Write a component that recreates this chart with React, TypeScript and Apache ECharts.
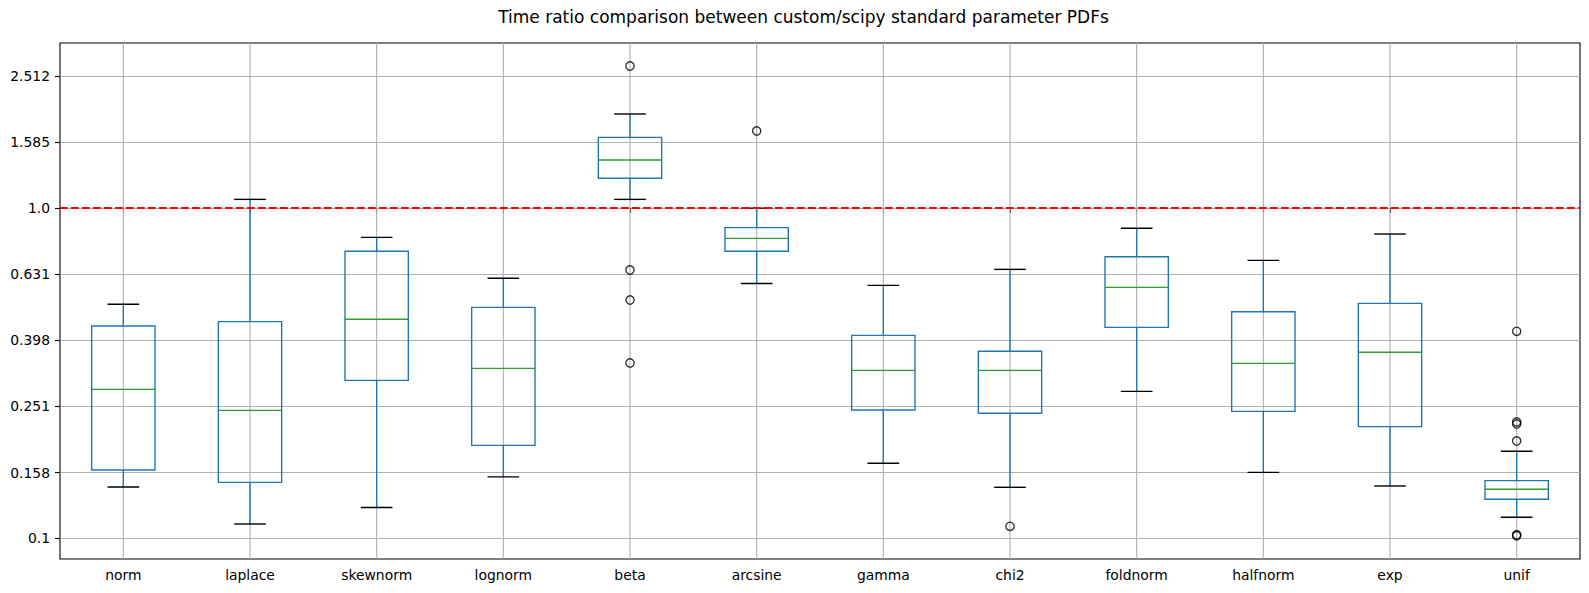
import React, { useEffect, useRef } from "react";
import * as echarts from "echarts";

// Per-distribution summary of the custom/scipy time ratio
const categories = ["norm", "laplace", "skewnorm", "lognorm", "beta", "arcsine", "gamma", "chi2", "foldnorm", "halfnorm", "exp", "unif"];
const whiskerLow = [0.143, 0.1105, 0.124, 0.1534, 1.062, 0.591, 0.1687, 0.1427, 0.2786, 0.1584, 0.144, 0.1158];
const quartile1 = [0.161, 0.1477, 0.3008, 0.1912, 1.23, 0.7395, 0.2446, 0.239, 0.4351, 0.2423, 0.2178, 0.1313];
const median = [0.2825, 0.244, 0.4603, 0.327, 1.398, 0.8094, 0.3225, 0.3225, 0.5752, 0.3386, 0.3657, 0.1407];
const quartile3 = [0.4393, 0.4528, 0.7395, 0.5003, 1.636, 0.872, 0.4116, 0.3683, 0.7121, 0.4854, 0.5145, 0.1495];
const whiskerHigh = [0.511, 1.062, 0.815, 0.6125, 1.926, 0.999, 0.5833, 0.6519, 0.868, 0.6943, 0.834, 0.1834];

// Points beyond the whiskers
const outlierCategory = ["beta", "beta", "beta", "beta", "arcsine", "chi2", "unif", "unif", "unif", "unif", "unif", "unif"];
const outlierValues = [2.691, 0.649, 0.5266, 0.3395, 1.711, 0.1087, 0.4232, 0.225, 0.2219, 0.1971, 0.1025, 0.1018];

// Log-spaced y tick labels
const yTickLabels = ["0.1", "0.158", "0.251", "0.398", "0.631", "1.0", "1.585", "2.512"];
const referenceRatio = 1.0;

const TITLE = "Time ratio comparison between custom/scipy standard parameter PDFs";
const FONT = "DejaVu Sans";
const BLUE = "#1f77b4";
const GREEN = "#2ca02c";
const GRID_GRAY = "#b0b0b0";

const lg = (v: number) => Math.log10(v);
const yTickPos = yTickLabels.map((s) => lg(parseFloat(s)));

export default function App() {
  const ref = useRef<HTMLDivElement>(null);

  useEffect(() => {
    if (!ref.current) return;
    const chart = echarts.init(ref.current, null, { renderer: "svg" });

    const boxData = categories.map((_, i) => [
      i,
      lg(whiskerLow[i]),
      lg(quartile1[i]),
      lg(median[i]),
      lg(quartile3[i]),
      lg(whiskerHigh[i]),
    ]);
    const outlierData = outlierCategory.map((c, i) => [categories.indexOf(c), lg(outlierValues[i])]);

    const option: any = {
      animation: false,
      backgroundColor: "#ffffff",
      textStyle: { fontFamily: FONT },
      graphic: [
        {
          type: "text",
          x: 803.5,
          y: 16.5,
          style: {
            text: TITLE,
            fontFamily: FONT,
            fontSize: 17,
            fill: "#000",
            align: "center",
            verticalAlign: "middle",
          },
        },
      ],
      grid: {
        left: 60,
        top: 43,
        width: 1520,
        height: 516,
        show: true,
        borderColor: "#000",
        borderWidth: 1.1,
        backgroundColor: "transparent",
      },
      xAxis: {
        type: "category",
        data: categories,
        boundaryGap: true,
        axisLine: { show: false },
        axisTick: { show: true, alignWithLabel: true, length: 5, lineStyle: { color: "#000", width: 1.1 } },
        axisLabel: { color: "#000", fontSize: 13.9, fontFamily: FONT, margin: 9, interval: 0 },
        splitLine: { show: false },
      },
      yAxis: {
        type: "value",
        min: -(559 - 208) / 330.3,
        max: (208 - 43) / 330.3,
        axisLine: { show: false },
        axisTick: {
          show: true,
          length: 5,
          customValues: yTickPos,
          lineStyle: { color: "#000", width: 1.1 },
        },
        axisLabel: {
          customValues: yTickPos,
          color: "#000",
          fontSize: 13.9,
          fontFamily: FONT,
          margin: 10,
          formatter: (v: number) => {
            let best = 0;
            yTickPos.forEach((p, i) => {
              if (Math.abs(p - v) < Math.abs(yTickPos[best] - v)) best = i;
            });
            return yTickLabels[best];
          },
        },
        splitLine: { show: true, lineStyle: { color: GRID_GRAY, width: 1.1 } },
      },
      series: [
        {
          type: "custom",
          name: "ratio",
          data: boxData,
          encode: { x: 0, y: [1, 2, 3, 4, 5] },
          renderItem: (params: any, api: any) => {
            const idx = api.value(0);
            const lo = api.value(1);
            const q1 = api.value(2);
            const md = api.value(3);
            const q3 = api.value(4);
            const hi = api.value(5);
            const cx = api.coord([idx, md])[0];
            const band = api.size([1, 0])[0];
            const boxHalf = band * 0.25;
            const capHalf = band * 0.125;
            const y = (v: number) => api.coord([idx, v])[1];
            const cs = params.coordSys;
            const lw = 1.39;
            return {
              type: "group",
              children: [
                {
                  type: "line",
                  shape: { x1: cx, y1: cs.y, x2: cx, y2: cs.y + cs.height },
                  style: { stroke: GRID_GRAY, lineWidth: 1.1 },
                },
                {
                  type: "line",
                  shape: { x1: cx, y1: y(q3), x2: cx, y2: y(hi) },
                  style: { stroke: BLUE, lineWidth: lw },
                },
                {
                  type: "line",
                  shape: { x1: cx, y1: y(q1), x2: cx, y2: y(lo) },
                  style: { stroke: BLUE, lineWidth: lw },
                },
                {
                  type: "rect",
                  shape: { x: cx - boxHalf, y: y(q3), width: boxHalf * 2, height: y(q1) - y(q3) },
                  style: { fill: "none", stroke: BLUE, lineWidth: lw },
                },
                {
                  type: "line",
                  shape: { x1: cx - boxHalf, y1: y(md), x2: cx + boxHalf, y2: y(md) },
                  style: { stroke: GREEN, lineWidth: lw },
                },
                {
                  type: "line",
                  shape: { x1: cx - capHalf, y1: y(hi), x2: cx + capHalf, y2: y(hi) },
                  style: { stroke: "#000", lineWidth: lw },
                },
                {
                  type: "line",
                  shape: { x1: cx - capHalf, y1: y(lo), x2: cx + capHalf, y2: y(lo) },
                  style: { stroke: "#000", lineWidth: lw },
                },
              ],
            };
          },
          markLine: {
            silent: true,
            symbol: ["none", "none"],
            label: { show: false },
            lineStyle: { color: "#ff0000", type: [7.7, 3.3], width: 2.1 },
            data: [{ yAxis: lg(referenceRatio) }],
          },
          z: 3,
        },
        {
          type: "scatter",
          name: "outliers",
          data: outlierData,
          symbol: "circle",
          symbolSize: 8.3,
          itemStyle: { color: "transparent", borderColor: "#000", borderWidth: 1.39 },
          z: 4,
        },
      ],
    };

    chart.setOption(option);
    return () => chart.dispose();
  }, []);

  return (
    <div
      ref={ref}
      style={{ position: "fixed", left: 0, top: 0, width: 1589, height: 593 }}
    />
  );
}
